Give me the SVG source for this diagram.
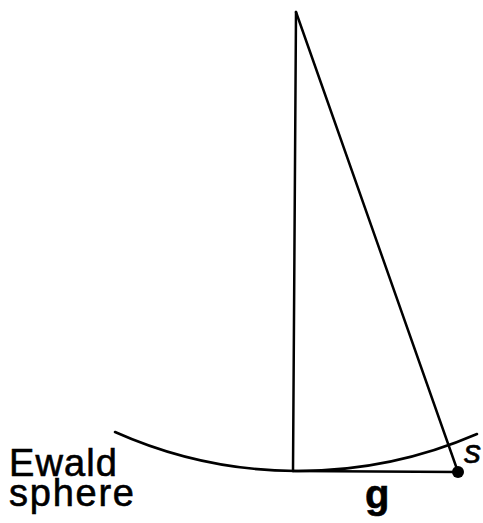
<svg xmlns="http://www.w3.org/2000/svg" width="483" height="523" viewBox="0 0 483 523">
<style>
.ln{stroke:#000;stroke-width:2.5;fill:none;stroke-linecap:round}
.lbl{font-family:"Liberation Sans",Arial,sans-serif;fill:#000;stroke:#000;stroke-width:0.6}
</style>
<rect width="483" height="523" fill="#fff"/>
<g id="connectors">
<line class="ln" x1="296" y1="12" x2="293" y2="471"/>
<line class="ln" x1="296" y1="12" x2="458" y2="472"/>
<line class="ln" x1="293" y1="471" x2="458" y2="472"/>
</g>
<g id="ewald-sphere">
<path class="ln" stroke-width="3" d="M115,432 A450,450 0 0 0 477,434"/>
<text class="lbl" font-size="38"><tspan x="9" y="476" textLength="108">Ewald</tspan><tspan x="9" y="506" textLength="125">sphere</tspan></text>
</g>
<g id="g-point">
<circle cx="458" cy="472" r="6" fill="#000"/>
<text class="lbl" x="365" y="508" font-size="40" font-weight="bold">g</text>
<text class="lbl" x="464" y="463" font-size="34" font-style="italic">s</text>
</g>
</svg>
